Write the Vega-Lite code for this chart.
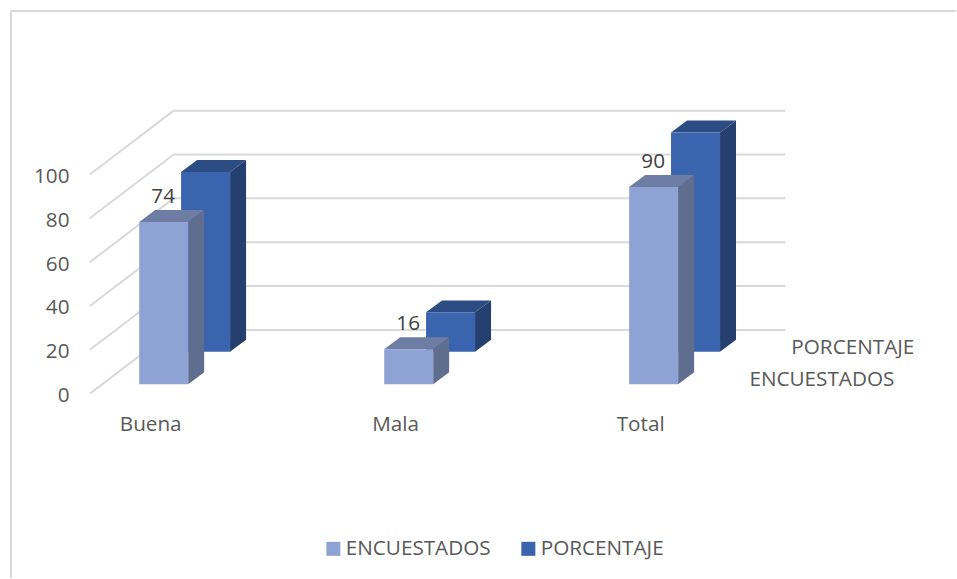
{
"$schema":"https://vega.github.io/schema/vega-lite/v6.json",
"width":957,"height":579,
"autosize":{"type":"fit","contains":"padding"},
"padding":{"left":10,"top":10,"right":0,"bottom":0},
"background":"white",
"view":{"stroke":null},
"config":{"font":"Open Sans","text":{"font":"Open Sans"}},
"layer":[
{"data":{"values":[{"tick":0},{"tick":20},{"tick":40},{"tick":60},{"tick":80},{"tick":100}]},
 "transform":[{"calculate":"datum.tick+29.09","as":"back"},{"calculate":"-0.3035","as":"xa"},{"calculate":"0.0387","as":"xb"},{"calculate":"2.5356","as":"xc"}],
 "layer":[
 {"mark":{"type":"rule","color":"#d9d9d9","strokeWidth":2},
  "encoding":{
   "x":{"field":"xa","type":"quantitative","scale":{"domain":[-0.6253,3.2322],"nice":false,"zero":false},
     "axis":{"values":[0,1,2],"labelExpr":"['Buena','Mala','Total'][datum.value]","orient":"bottom","offset":-166,"labelPadding":2,"labelOffset":-14,"domain":false,"ticks":false,"grid":false,"title":null,"labelFontSize":20.7,"labelFont":"Open Sans","labelColor":"#595959","labelFlush":false,"labelOverlap":false}},
   "x2":{"field":"xb"},
   "y":{"field":"tick","type":"quantitative","scale":{"domain":[-84.09,174.55],"nice":false,"zero":false},
     "axis":{"values":[0,20,40,60,80,100],"orient":"left","offset":-63,"labelPadding":5,"labelOffset":2,"domain":false,"ticks":false,"grid":false,"title":null,"labelFontSize":20.7,"labelFont":"Open Sans","labelColor":"#595959"}},
   "y2":{"field":"back"}}},
 {"mark":{"type":"rule","color":"#d9d9d9","strokeWidth":2},
  "encoding":{"x":{"field":"xb","type":"quantitative"},"x2":{"field":"xc"},"y":{"field":"back","type":"quantitative"}}}
 ]},
{"data":{"values":[{"a":-0.6253,"b":3.2322,"c":174.55,"d":-84.09}]},
 "layer":[
 {"mark":{"type":"rule","color":"#d9d9d9","strokeWidth":2},"encoding":{"x":{"field":"a","type":"quantitative"},"y":{"field":"d","type":"quantitative"},"y2":{"field":"c"}}},
 {"mark":{"type":"rule","color":"#d9d9d9","strokeWidth":2},"encoding":{"x":{"field":"a","type":"quantitative"},"x2":{"field":"b"},"y":{"field":"c","type":"quantitative"}}}
 ]},
{"data":{"values":[
 {"categoria":"Buena","serie":"ENCUESTADOS","valor":74},
 {"categoria":"Mala","serie":"ENCUESTADOS","valor":16},
 {"categoria":"Total","serie":"ENCUESTADOS","valor":90},
 {"categoria":"Buena","serie":"PORCENTAJE","valor":82},
 {"categoria":"Mala","serie":"PORCENTAJE","valor":18},
 {"categoria":"Total","serie":"PORCENTAJE","valor":100}]},
 "transform":[
  {"calculate":"indexof(['Buena','Mala','Total'],datum.categoria)","as":"idx"},
  {"calculate":"datum.serie==='PORCENTAJE'?1:0","as":"depth"},
  {"calculate":"datum.idx-0.102+datum.depth*0.171","as":"left"},
  {"calculate":"datum.left+0.2","as":"right"},
  {"calculate":"4.3+datum.depth*14.8","as":"base"},
  {"calculate":"datum.base+datum.valor","as":"top"}],
 "layer":[
 {"transform":[{"filter":"datum.depth===1"}],"layer":[
  {"transform":[{"calculate":"[0,1]","as":"s"},{"flatten":["s"]},{"calculate":"datum.right+datum.s*0.0652","as":"px"},{"calculate":"datum.base+datum.s*5.45","as":"py"},{"calculate":"datum.top+datum.s*5.45","as":"py2"}],
   "mark":{"type":"area","color":"#253F6E","orient":"vertical"},
   "encoding":{"x":{"field":"px","type":"quantitative"},"y":{"field":"py","type":"quantitative"},"y2":{"field":"py2"},"detail":{"field":"idx"}}},
  {"transform":[{"calculate":"[0,0.0652,0.2,0.2652]","as":"s"},{"flatten":["s"]},{"calculate":"datum.left+datum.s","as":"px"},{"calculate":"datum.top+5.45*max(0,(datum.s-0.2)/0.0652)","as":"py"},{"calculate":"datum.top+5.45*min(1,datum.s/0.0652)","as":"py2"}],
   "mark":{"type":"area","color":"#2C4C84","orient":"vertical"},
   "encoding":{"x":{"field":"px","type":"quantitative"},"y":{"field":"py","type":"quantitative"},"y2":{"field":"py2"},"detail":{"field":"idx"}}}
 ]},
 {"transform":[{"filter":"datum.depth===1"}],"mark":{"type":"rect"},
  "encoding":{"x":{"field":"left","type":"quantitative"},"x2":{"field":"right"},"y":{"field":"base","type":"quantitative"},"y2":{"field":"top"},
   "color":{"field":"serie","type":"nominal","scale":{"domain":["ENCUESTADOS","PORCENTAJE"],"range":["#8FA2D4","#3A64AE"]},
    "legend":{"orient":"none","legendX":312,"legendY":527,"direction":"horizontal","title":null,"symbolType":"square","symbolSize":196,"symbolStrokeWidth":0,"symbolOpacity":1,"labelFontSize":20.7,"labelFont":"Open Sans","labelColor":"#595959","columnPadding":27,"labelOffset":2}}}},
 {"transform":[{"filter":"datum.depth===0"}],"layer":[
  {"transform":[{"calculate":"[0,1]","as":"s"},{"flatten":["s"]},{"calculate":"datum.right+datum.s*0.0652","as":"px"},{"calculate":"datum.base+datum.s*5.45","as":"py"},{"calculate":"datum.top+datum.s*5.45","as":"py2"}],
   "mark":{"type":"area","color":"#5F6D8F","orient":"vertical"},
   "encoding":{"x":{"field":"px","type":"quantitative"},"y":{"field":"py","type":"quantitative"},"y2":{"field":"py2"},"detail":{"field":"idx"}}},
  {"transform":[{"calculate":"[0,0.0652,0.2,0.2652]","as":"s"},{"flatten":["s"]},{"calculate":"datum.left+datum.s","as":"px"},{"calculate":"datum.top+5.45*max(0,(datum.s-0.2)/0.0652)","as":"py"},{"calculate":"datum.top+5.45*min(1,datum.s/0.0652)","as":"py2"}],
   "mark":{"type":"area","color":"#6E7DA3","orient":"vertical"},
   "encoding":{"x":{"field":"px","type":"quantitative"},"y":{"field":"py","type":"quantitative"},"y2":{"field":"py2"},"detail":{"field":"idx"}}}
 ]},
 {"transform":[{"filter":"datum.depth===0"}],"mark":{"type":"rect"},
  "encoding":{"x":{"field":"left","type":"quantitative"},"x2":{"field":"right"},"y":{"field":"base","type":"quantitative"},"y2":{"field":"top"},
   "color":{"field":"serie","type":"nominal"}}},
 {"transform":[{"filter":"datum.depth===0"}],"mark":{"type":"text","fontSize":20.7,"font":"Open Sans","color":"#404040","dy":-25,"dx":-1,"align":"center","baseline":"middle"},
  "encoding":{"x":{"field":"idx","type":"quantitative"},"y":{"field":"top","type":"quantitative"},"text":{"field":"valor","type":"quantitative"}}}
 ]},
{"data":{"values":[{"serie":"ENCUESTADOS"},{"serie":"PORCENTAJE"}]},
 "transform":[{"calculate":"datum.serie==='PORCENTAJE'?1:0","as":"depth"},{"calculate":"2.389+datum.depth*0.171","as":"px"},{"calculate":"6.2+datum.depth*14.8","as":"py"}],
 "mark":{"type":"text","fontSize":20.7,"font":"Open Sans","color":"#595959","align":"left","baseline":"middle"},
 "encoding":{"x":{"field":"px","type":"quantitative"},"y":{"field":"py","type":"quantitative"},"text":{"field":"serie","type":"nominal"}}}
]
}
